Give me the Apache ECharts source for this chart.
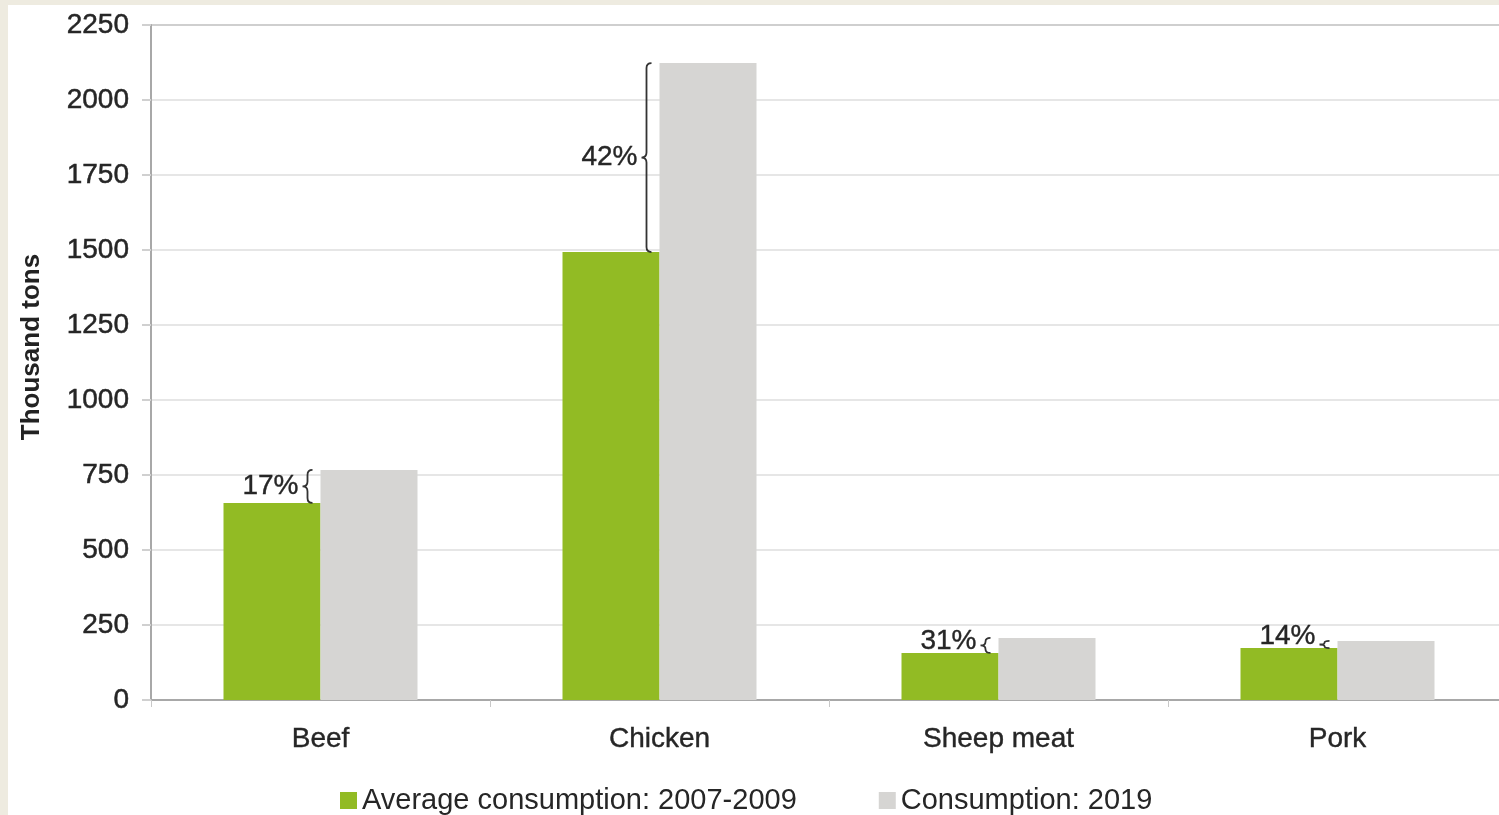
<!DOCTYPE html>
<html>
<head>
<meta charset="utf-8">
<script src="https://cdn.jsdelivr.net/npm/echarts@6/dist/echarts.min.js"></script>
<style>
html,body{margin:0;padding:0;width:1499px;height:815px;overflow:hidden;background:#eeebe0;}
#chart{position:absolute;left:8px;top:5px;width:1499px;height:810px;background:#ffffff;}
</style>
</head>
<body>
<div id="chart"></div>
<script>
const categories = ['Beef', 'Chicken', 'Sheep meat', 'Pork'];
const avg2007_2009 = [657, 1493, 157, 173];
const cons2019 = [767, 2123, 207, 197];
const changeLabels = ['17%', '42%', '31%', '14%'];
const yTicks = [0, 250, 500, 750, 1000, 1250, 1500, 1750, 2000, 2250];

const braceData = categories.map((c, i) => [i, avg2007_2009[i], cons2019[i], changeLabels[i]]);

const gridColors = yTicks.map((v, i) => i === yTicks.length - 1 ? '#cfcfcf' : '#e6e6e6');

const chart = echarts.init(document.getElementById('chart'));
chart.setOption({
  animation: false,
  textStyle: {fontFamily: 'Liberation Sans, Arial, sans-serif'},
  grid: {left: 143, right: 0, top: 20, bottom: 115},
  legend: {
    left: 327, top: 776,
    itemWidth: 17, itemHeight: 17, itemGap: 82,
    icon: 'rect',
    textStyle: {fontSize: 29, color: '#262626', fontFamily: 'Liberation Sans, Arial, sans-serif'},
    data: ['Average consumption: 2007-2009', 'Consumption: 2019']
  },
  xAxis: {
    type: 'category',
    data: categories,
    axisLine: {lineStyle: {color: '#a8a8a8', width: 2}},
    axisTick: {show: true, length: 7, lineStyle: {color: '#c8c8c8', width: 1}},
    axisLabel: {fontSize: 28, color: '#262626', margin: 25, textBorderColor: '#262626', textBorderWidth: 0.4}
  },
  yAxis: {
    type: 'value',
    min: 0, max: 2250, interval: 250,
    name: 'Thousand tons',
    nameLocation: 'middle',
    nameGap: 106,
    nameTextStyle: {fontSize: 26, fontWeight: 'bold', color: '#222', padding: [0, 0, 0, 31]},
    axisLine: {show: true, lineStyle: {color: '#a8a8a8', width: 2}},
    axisTick: {show: true, length: 9, lineStyle: {color: '#d0d0d0', width: 2}},
    axisLabel: {fontSize: 28, color: '#262626', margin: 22, textBorderColor: '#262626', textBorderWidth: 0.5, formatter: function (v) { return String(v); }},
    splitLine: {show: true, lineStyle: {color: gridColors, width: 2}}
  },
  series: [
    {
      name: 'Average consumption: 2007-2009',
      type: 'bar',
      data: avg2007_2009,
      barWidth: 97,
      barGap: '0%',
      itemStyle: {color: '#92bb24'}
    },
    {
      name: 'Consumption: 2019',
      type: 'bar',
      data: cons2019,
      barWidth: 97,
      barGap: '0%',
      itemStyle: {color: '#d6d5d3'}
    },
    {
      type: 'custom',
      data: braceData,
      z: 10,
      renderItem: function (params, api) {
        const idx = api.value(0);
        const pLow = api.coord([idx, api.value(1)]);
        const pHigh = api.coord([idx, api.value(2)]);
        const x = pLow[0] - 13;
        const y1 = pHigh[1];
        const y2 = pLow[1];
        const ym = (y1 + y2) / 2;
        const h = y2 - y1;
        const r = Math.min(5, h / 4);
        const w = 5;
        const path =
          'M' + (x + w) + ' ' + y1 +
          ' Q' + x + ' ' + y1 + ' ' + x + ' ' + (y1 + r) +
          ' L' + x + ' ' + (ym - r) +
          ' Q' + x + ' ' + ym + ' ' + (x - w) + ' ' + ym +
          ' Q' + x + ' ' + ym + ' ' + x + ' ' + (ym + r) +
          ' L' + x + ' ' + (y2 - r) +
          ' Q' + x + ' ' + y2 + ' ' + (x + w) + ' ' + y2;
        const ty = Math.min(ym, y2 - 12);
        return {
          type: 'group',
          children: [
            {type: 'path', shape: {pathData: path}, style: {fill: null, stroke: '#333', lineWidth: 1.8}},
            {type: 'text', style: {text: api.value(3), x: x - 9, y: ty, textAlign: 'right', textVerticalAlign: 'middle', fontSize: 28, fill: '#262626', stroke: '#262626', lineWidth: 0.4, fontFamily: 'Liberation Sans, Arial, sans-serif'}}
          ]
        };
      }
    }
  ]
});
</script>
</body>
</html>
